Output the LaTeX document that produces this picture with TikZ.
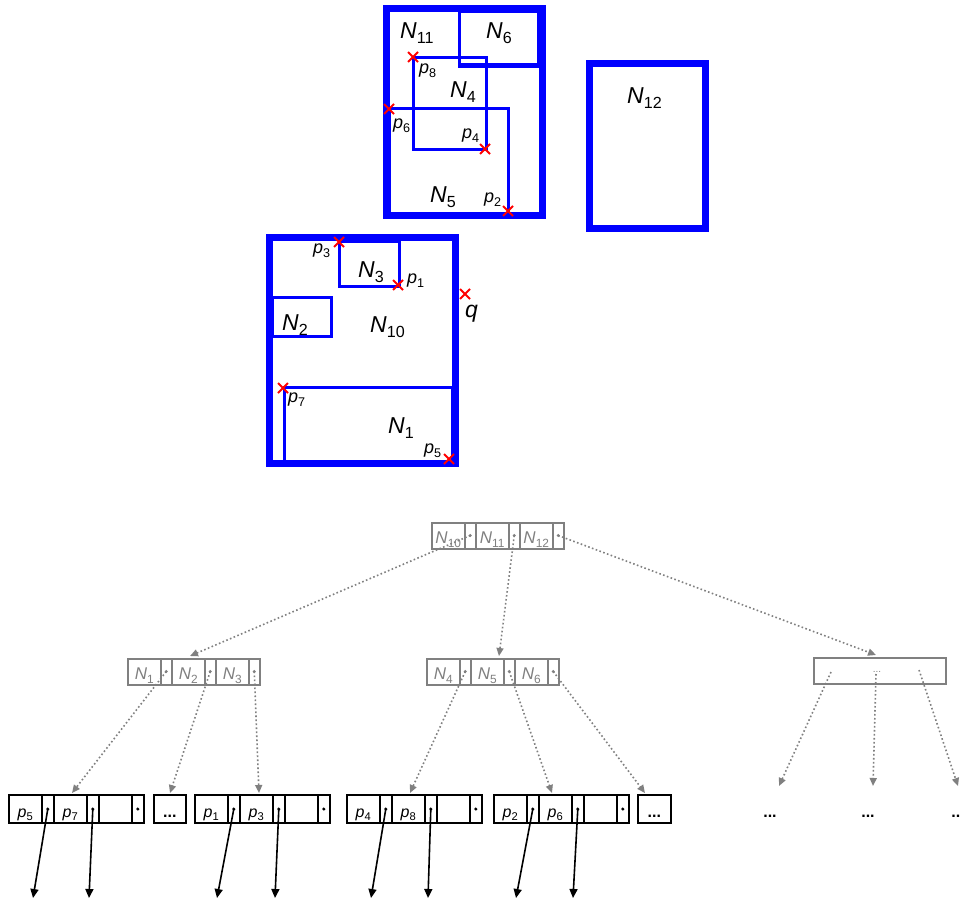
\documentclass[tikz,border=0pt]{standalone}
\usepackage{fontspec}
\setmainfont{Liberation Sans}
\usepackage{graphicx}
\usetikzlibrary{arrows.meta}
\newcommand\Lab[2]{\textit{#1}\raisebox{-0.24em}{\scalebox{0.7}{#2}}}
\tikzset{
  thickbox/.style={draw=blue, line width=7pt},
  thinbox/.style={draw=blue, line width=3pt},
  xm/.style={draw=red, line width=2pt},
  biglab/.style={font=\fontsize{23}{27}\selectfont, inner sep=0pt, anchor=base west},
  smlab/.style={font=\fontsize{18}{21}\selectfont, inner sep=0pt, anchor=base west},
  gcell/.style={draw=gray, line width=2pt, minimum height=26pt, inner sep=0pt, anchor=west},
  bcell/.style={draw=black, line width=1.6pt, minimum height=28pt, inner sep=0pt, anchor=west},
  garrow/.style={draw=gray, line width=1.6pt, dash pattern=on 1.6pt off 2.4pt, -{Triangle[length=8pt,width=7pt]}},
  barrow/.style={draw=black, line width=1.6pt, -{Triangle[length=9pt,width=8pt]}},
  glab/.style={text=gray, font=\fontsize{17}{20}\selectfont, inner sep=0pt, anchor=base},
  blab/.style={font=\fontsize{16}{19}\selectfont, inner sep=0pt, anchor=base},
  dots/.style={font=\bfseries\fontsize{16}{19}\selectfont, inner sep=0pt, anchor=base},
}
\newcommand\Xmark[1]{\draw[xm] ([shift={(-5,-5)}]#1) -- ([shift={(5,5)}]#1) ([shift={(-5,5)}]#1) -- ([shift={(5,-5)}]#1);}
\newcommand\GRec[6]{%
  \foreach \i/\lbl in {0/#4,1/#5,2/#6}{%
    \node[gcell, minimum width=32.5pt] (#1l\i) at (#2+\i*44, #3) {};
    \node[glab] at ([yshift=-7.5pt]#1l\i.center) {\Lab{N}{\lbl}};
    \node[gcell, minimum width=11.5pt] (#1p\i) at (#2+\i*44+32.5, #3) {};
    \fill[gray] (#1p\i.center) circle (1.6pt);
  }}
\newcommand\BRec[4]{%
  \node[bcell, minimum width=33pt] (#1a) at (#2,809) {};
  \node[blab] at ([yshift=-8pt]#1a.center) {\Lab{p}{#3}};
  \node[bcell, minimum width=12pt] (#1b) at (#2+33,809) {};
  \node[bcell, minimum width=33pt] (#1c) at (#2+45,809) {};
  \node[blab] at ([yshift=-8pt]#1c.center) {\Lab{p}{#4}};
  \node[bcell, minimum width=12pt] (#1d) at (#2+78,809) {};
  \node[bcell, minimum width=33pt] (#1e) at (#2+90,809) {};
  \node[bcell, minimum width=12pt] (#1f) at (#2+123,809) {};
  \fill (#1b.center) circle (1.7pt);
  \fill (#1d.center) circle (1.7pt);
  \fill (#1f.center) circle (1.7pt);}
\begin{document}
\begin{tikzpicture}[x=1pt,y=-1pt]
\fill[white] (0,0) rectangle (960,902);
\useasboundingbox (0,0) rectangle (960,902);

% ---------- upper rectangles ----------
\draw[thickbox] (386.5,8.5) rectangle (542.5,215.5);
\draw[thinbox] (459,11) rectangle (538,64);
\draw[thinbox] (459,64) -- (459,66.5) -- (542,66.5);
\draw[thinbox] (413,57) rectangle (486,149);
\draw[thinbox] (389,108) rectangle (508,213);

\draw[thickbox] (589.5,63.5) rectangle (705.5,228.5);

\draw[thickbox] (269.5,237.5) rectangle (455.5,463.5);
\draw[thinbox] (339,241) rectangle (399,286);
\draw[thinbox] (272,297) rectangle (331,336.5);
\draw[thinbox] (284,387) rectangle (452,461);

\node[biglab] (n11) at (400,38) {\Lab{N}{11}};
\node[biglab] (n6) at (486,38) {\Lab{N}{6}};
\node[biglab] (n4) at (450,97) {\Lab{N}{4}};
\node[biglab] (n5) at (430,202) {\Lab{N}{5}};
\node[biglab] (n12) at (627,103) {\Lab{N}{12}};
\node[biglab] (n3) at (358,277) {\Lab{N}{3}};
\node[biglab] (n2) at (282,330) {\Lab{N}{2}};
\node[biglab] (n10) at (370,332) {\Lab{N}{10}};
\node[biglab] (n1) at (388,433) {\Lab{N}{1}};
\node[biglab] (lq) at (465,317) {\textit{q}};

\node[smlab] (lp8) at (419,73) {\Lab{p}{8}};
\node[smlab] (lp6) at (393,128) {\Lab{p}{6}};
\node[smlab] (lp4) at (462,138) {\Lab{p}{4}};
\node[smlab] (lp2) at (484,202) {\Lab{p}{2}};
\node[smlab] (lp3) at (313,253) {\Lab{p}{3}};
\node[smlab] (lp1) at (407,283) {\Lab{p}{1}};
\node[smlab] (lp7) at (288,402) {\Lab{p}{7}};
\node[smlab] (lp5) at (424,453) {\Lab{p}{5}};

\coordinate (x8) at (413,57);
\coordinate (x6) at (389,109);
\coordinate (x4) at (485,149);
\coordinate (x2) at (508,211);
\coordinate (x3) at (339,242);
\coordinate (x1) at (398,285);
\coordinate (xq) at (465,294);
\coordinate (x7) at (283,388);
\coordinate (x5) at (449,459);
\Xmark{x8}\Xmark{x6}\Xmark{x4}\Xmark{x2}\Xmark{x3}
\Xmark{x1}\Xmark{xq}\Xmark{x7}\Xmark{x5}

% ---------- tree ----------
\GRec{r}{431}{535.5}{10}{11}{12}
\GRec{L}{127}{671.5}{1}{2}{3}
\GRec{M}{426}{671.5}{4}{5}{6}
\node[gcell, minimum width=132pt] (R) at (813,671) {};
\node[text=gray, font=\fontsize{10}{12}\selectfont, inner sep=0pt] (Rd) at (877,672) {...};

\BRec{A}{8}{5}{7}
\node[bcell, minimum width=32pt] (D1) at (153,809) {};
\node[dots] at ([yshift=-8pt]D1.center) {...};
\BRec{B}{194}{1}{3}
\BRec{C}{346}{4}{8}
\BRec{E}{493}{2}{6}
\node[bcell, minimum width=33pt] (D2) at (637,809) {};
\node[dots] at ([yshift=-8pt]D2.center) {...};

\coordinate (tL) at (190,656);
\coordinate (tM) at (499,656);
\coordinate (tR) at (876,655);
\draw[garrow] (rp0.center) -- (tL);
\draw[garrow] (rp1.center) -- (tM);
\draw[garrow] (rp2.center) -- (tR);

\coordinate (a1) at (72,793);
\coordinate (a2) at (170,793);
\coordinate (a3) at (259,793);
\draw[garrow] (Lp0.center) -- (a1);
\draw[garrow] (Lp1.center) -- (a2);
\draw[garrow] (Lp2.center) -- (a3);

\coordinate (b1) at (410,793);
\coordinate (b2) at (552,793);
\coordinate (b3) at (645,793);
\draw[garrow] (Mp0.center) -- (b1);
\draw[garrow] (Mp1.center) -- (b2);
\draw[garrow] (Mp2.center) -- (b3);

\coordinate (s1) at (831,672);
\coordinate (s2) at (876,674);
\coordinate (s3) at (919,670);
\coordinate (c1) at (779,786);
\coordinate (c2) at (873,786);
\coordinate (c3) at (958,786);
\draw[garrow] (s1) -- (c1);
\draw[garrow] (s2) -- (c2);
\draw[garrow] (s3) -- (c3);
\node[dots] (e1) at (770,817) {...};
\node[dots] (e2) at (868,817) {...};
\node[dots] (e3) at (958,817) {...};

% black pointer arrows
\coordinate (d1) at (33,898);
\coordinate (d2) at (89,898);
\coordinate (d3) at (217,898);
\coordinate (d4) at (275,898);
\coordinate (d5) at (371,898);
\coordinate (d6) at (428,898);
\coordinate (d7) at (516,898);
\coordinate (d8) at (573,898);
\draw[barrow] (Ab.center) -- (d1);
\draw[barrow] (Ad.center) -- (d2);
\draw[barrow] (Bb.center) -- (d3);
\draw[barrow] (Bd.center) -- (d4);
\draw[barrow] (Cb.center) -- (d5);
\draw[barrow] (Cd.center) -- (d6);
\draw[barrow] (Eb.center) -- (d7);
\draw[barrow] (Ed.center) -- (d8);
\end{tikzpicture}
\end{document}
